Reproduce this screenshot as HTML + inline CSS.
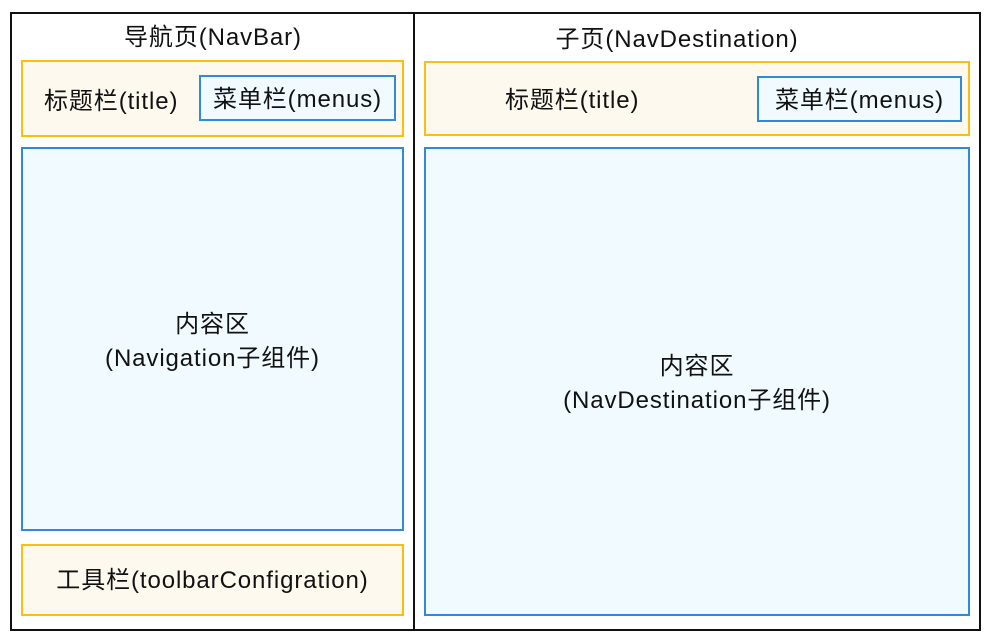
<!DOCTYPE html><html><head><style>
body{margin:0;width:992px;height:641px;background:#fff;font-family:"Liberation Sans","Noto Sans CJK SC",sans-serif;color:#111;position:relative;overflow:hidden}
div{position:absolute;box-sizing:border-box}
.y{border:2px solid #fbbf10;background:#fdf9ef}
.b{border:2px solid #3389d9;background:#f0faff}
.t{font-size:24px;letter-spacing:0.9px;white-space:nowrap;text-align:center;line-height:28px}
</style></head><body>
<div style="left:10px;top:12px;width:971px;height:619px;border:2px solid #111"></div>
<div style="left:413px;top:12px;width:2px;height:619px;background:#111"></div>
<div class="t" style="left:12px;top:24px;width:402px">导航页(NavBar)</div>
<div class="t" style="left:415px;top:26px;width:524px">子页(NavDestination)</div>
<div class="y" style="left:21px;top:60px;width:383px;height:77px"></div>
<div class="t" style="left:44px;top:88px">标题栏(title)</div>
<div class="b" style="left:199px;top:75px;width:197px;height:46px"></div>
<div class="t" style="left:199px;top:86px;width:197px">菜单栏(menus)</div>
<div class="b" style="left:21px;top:147px;width:383px;height:384px"></div>
<div class="t" style="left:21px;top:308px;width:383px;line-height:34px">内容区<br>(Navigation子组件)</div>
<div class="y" style="left:21px;top:544px;width:383px;height:72px"></div>
<div class="t" style="left:21px;top:567px;width:383px">工具栏(toolbarConfigration)</div>
<div class="y" style="left:424px;top:61px;width:546px;height:75px"></div>
<div class="t" style="left:505px;top:87px">标题栏(title)</div>
<div class="b" style="left:757px;top:76px;width:205px;height:46px"></div>
<div class="t" style="left:757px;top:87px;width:205px">菜单栏(menus)</div>
<div class="b" style="left:424px;top:147px;width:546px;height:469px"></div>
<div class="t" style="left:424px;top:350px;width:546px;line-height:34px">内容区<br>(NavDestination子组件)</div>
</body></html>
